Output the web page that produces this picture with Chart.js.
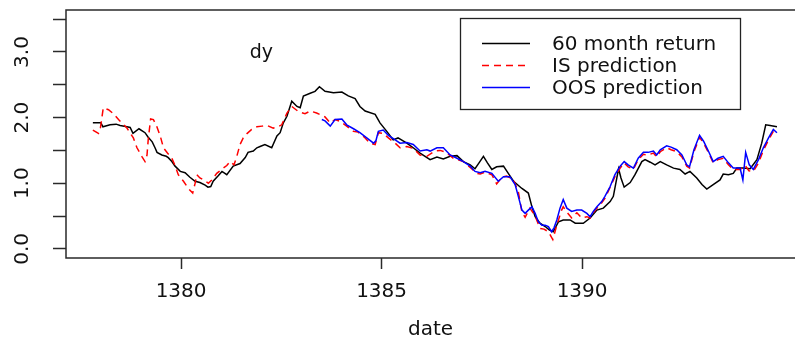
<!DOCTYPE html>
<html><head><meta charset="utf-8">
<script src="https://cdn.jsdelivr.net/npm/chart.js@4.4.1/dist/chart.umd.min.js"></script>
<style>html,body{margin:0;padding:0;background:#fff;}canvas{display:block;}</style>
</head><body>
<canvas id="c" width="795" height="342"></canvas>
<script>
// ---- data ----
const returnDates = [1377.80,1378.00,1378.05,1378.23,1378.38,1378.48,1378.65,1378.73,1378.80,1378.95,
1379.10,1379.18,1379.28,1379.35,1379.40,1379.52,1379.63,1379.68,1379.77,1379.85,
1379.98,1380.10,1380.22,1380.35,1380.47,1380.60,1380.67,1380.74,1380.80,1380.92,
1381.02,1381.14,1381.30,1381.47,1381.60,1381.67,1381.80,1381.89,1381.97,1382.09,
1382.26,1382.39,1382.47,1382.55,1382.64,1382.76,1382.89,1382.97,1383.05,1383.22,
1383.34,1383.45,1383.59,1383.80,1384.01,1384.17,1384.34,1384.46,1384.59,1384.84,
1384.96,1385.13,1385.29,1385.41,1385.63,1385.79,1385.96,1386.21,1386.38,1386.54,
1386.71,1386.88,1387.04,1387.21,1387.33,1387.43,1387.54,1387.64,1387.75,1387.87,
1388.04,1388.16,1388.29,1388.50,1388.66,1388.75,1388.83,1388.95,1389.08,1389.18,
1389.28,1389.35,1389.41,1389.53,1389.70,1389.83,1390.03,1390.20,1390.37,1390.53,
1390.70,1390.78,1390.91,1390.97,1391.05,1391.20,1391.32,1391.49,1391.57,1391.70,
1391.82,1391.95,1392.11,1392.28,1392.44,1392.57,1392.69,1392.86,1392.99,1393.11,
1393.27,1393.44,1393.52,1393.65,1393.77,1393.86,1394.02,1394.19,1394.36,1394.48,
1394.58,1394.69,1394.86];
const returnValues = [1.92,1.92,1.86,1.89,1.90,1.88,1.86,1.85,1.76,1.83,
1.77,1.70,1.63,1.54,1.47,1.43,1.41,1.39,1.33,1.26,
1.18,1.16,1.09,1.03,1.01,0.97,0.94,0.95,1.03,1.11,
1.18,1.13,1.26,1.30,1.39,1.47,1.49,1.54,1.56,1.59,
1.54,1.72,1.77,1.92,2.02,2.25,2.17,2.15,2.33,2.37,
2.40,2.47,2.40,2.38,2.39,2.33,2.29,2.17,2.10,2.05,
1.92,1.79,1.66,1.69,1.61,1.54,1.46,1.36,1.40,1.37,
1.41,1.42,1.33,1.28,1.22,1.31,1.41,1.31,1.21,1.25,
1.26,1.15,1.03,0.92,0.85,0.64,0.49,0.39,0.34,0.29,
0.26,0.34,0.41,0.44,0.44,0.39,0.39,0.47,0.59,0.62,
0.72,0.80,1.22,1.08,0.94,1.01,1.13,1.33,1.36,1.32,
1.28,1.33,1.28,1.23,1.21,1.14,1.18,1.08,0.98,0.91,
0.98,1.05,1.14,1.13,1.15,1.23,1.23,1.22,1.36,1.61,
1.89,1.88,1.86];

const isDates = [1377.80,1377.94,1377.99,1378.06,1378.19,1378.31,1378.44,1378.52,1378.65,1378.81,
1378.90,1379.02,1379.10,1379.15,1379.18,1379.24,1379.31,1379.39,1379.48,1379.56,
1379.66,1379.77,1379.85,1379.93,1380.06,1380.18,1380.29,1380.35,1380.39,1380.47,
1380.56,1380.68,1380.77,1380.89,1381.01,1381.14,1381.22,1381.32,1381.39,1381.47,
1381.55,1381.65,1381.76,1381.89,1382.02,1382.14,1382.30,1382.42,1382.51,1382.64,
1382.76,1382.93,1383.09,1383.22,1383.38,1383.59,1383.72,1383.84,1383.97,1384.13,
1384.30,1384.41,1384.59,1384.71,1384.84,1384.92,1385.04,1385.17,1385.34,1385.46,
1385.63,1385.79,1385.96,1386.13,1386.33,1386.46,1386.61,1386.79,1387.04,1387.21,
1387.37,1387.46,1387.58,1387.75,1387.87,1388.00,1388.12,1388.29,1388.41,1388.50,
1388.58,1388.70,1388.83,1388.95,1389.05,1389.16,1389.27,1389.37,1389.49,1389.53,
1389.62,1389.74,1389.87,1389.99,1390.12,1390.20,1390.28,1390.37,1390.49,1390.57,
1390.70,1390.82,1390.95,1391.05,1391.15,1391.28,1391.40,1391.53,1391.65,1391.78,
1391.86,1391.95,1392.11,1392.22,1392.36,1392.49,1392.61,1392.68,1392.79,1392.93,
1393.03,1393.15,1393.27,1393.39,1393.52,1393.65,1393.77,1393.94,1394.07,1394.16,
1394.27,1394.40,1394.52,1394.65,1394.77,1394.86];
const isValues = [1.81,1.76,1.85,2.15,2.12,2.06,1.97,1.92,1.84,1.69,
1.54,1.41,1.33,1.43,1.66,1.98,1.97,1.87,1.72,1.54,
1.46,1.38,1.27,1.13,1.03,0.92,0.85,1.00,1.13,1.08,
1.05,1.00,1.05,1.15,1.21,1.27,1.33,1.28,1.41,1.59,
1.69,1.76,1.82,1.86,1.87,1.88,1.84,1.86,1.89,2.07,
2.17,2.09,2.06,2.10,2.07,2.01,1.92,1.97,1.94,1.87,
1.79,1.78,1.69,1.61,1.59,1.77,1.76,1.69,1.61,1.54,
1.56,1.53,1.43,1.41,1.49,1.50,1.47,1.38,1.33,1.24,
1.15,1.14,1.17,1.13,0.99,1.09,1.11,1.05,0.87,0.56,
0.48,0.62,0.50,0.31,0.30,0.26,0.14,0.36,0.59,0.64,
0.56,0.47,0.55,0.47,0.49,0.47,0.55,0.62,0.70,0.77,
0.94,1.10,1.23,1.31,1.25,1.21,1.36,1.44,1.43,1.46,
1.40,1.48,1.54,1.51,1.48,1.40,1.26,1.23,1.48,1.70,
1.61,1.47,1.31,1.36,1.38,1.28,1.21,1.21,1.27,1.19,
1.18,1.31,1.50,1.66,1.79,1.76];

const oosDates = [1383.51,1383.59,1383.72,1383.84,1384.01,1384.13,1384.30,1384.46,1384.63,1384.80,
1384.86,1384.92,1385.04,1385.17,1385.34,1385.46,1385.63,1385.79,1385.96,1386.13,
1386.21,1386.38,1386.54,1386.71,1386.88,1387.04,1387.21,1387.33,1387.46,1387.58,
1387.75,1387.91,1388.04,1388.20,1388.33,1388.41,1388.50,1388.58,1388.66,1388.75,
1388.83,1388.91,1389.00,1389.08,1389.16,1389.24,1389.30,1389.37,1389.45,1389.53,
1389.62,1389.74,1389.87,1389.99,1390.12,1390.20,1390.28,1390.37,1390.49,1390.57,
1390.70,1390.82,1390.95,1391.05,1391.15,1391.28,1391.40,1391.53,1391.65,1391.78,
1391.86,1391.95,1392.11,1392.22,1392.36,1392.49,1392.61,1392.68,1392.79,1392.93,
1393.03,1393.15,1393.27,1393.39,1393.52,1393.65,1393.77,1393.94,1394.01,1394.08,
1394.17,1394.27,1394.40,1394.52,1394.65,1394.77,1394.86];
const oosValues = [1.97,1.95,1.87,1.97,1.98,1.89,1.83,1.77,1.69,1.61,
1.65,1.79,1.81,1.73,1.66,1.61,1.62,1.59,1.49,1.51,
1.49,1.54,1.54,1.43,1.38,1.33,1.26,1.18,1.16,1.18,
1.15,1.03,1.10,1.10,0.98,0.80,0.59,0.54,0.59,0.64,
0.54,0.41,0.36,0.36,0.34,0.26,0.32,0.44,0.62,0.75,
0.62,0.57,0.59,0.59,0.54,0.49,0.57,0.64,0.72,0.80,
0.95,1.13,1.26,1.33,1.28,1.23,1.38,1.47,1.47,1.49,
1.43,1.51,1.57,1.55,1.51,1.43,1.28,1.25,1.51,1.73,
1.64,1.49,1.33,1.38,1.41,1.31,1.23,1.23,1.05,1.47,
1.28,1.21,1.36,1.54,1.69,1.82,1.77];

const seriesLabels = ['60 month return', 'IS prediction', 'OOS prediction'];
const xTickValues = [1380, 1385, 1390];
const yTickValues = [0, 0.5, 1, 1.5, 2, 2.5, 3, 3.5];
const yLabelledTicks = [0, 1, 2, 3];
const xRange = [1377.13, 1395.31];
const yRange = [-0.14, 3.64];
const xTitle = 'date';
const panelLabel = 'dy';
const panelLabelAt = {x: 1382, y: 3.0};

// ---- chart ----
const FONT = '"DejaVu Sans", sans-serif';
const INK = '#111';
const AXIS = '#2a2a2a';

function pts(xs, ys) { return xs.map((x, i) => ({x: x, y: ys[i]})); }

const overlay = {
  id: 'overlay',
  afterDraw(chart) {
    const {ctx, chartArea: a, scales} = chart;
    ctx.save();
    // plot frame (right side runs off the picture)
    ctx.strokeStyle = AXIS; ctx.lineWidth = 1.5; ctx.setLineDash([]);
    ctx.beginPath();
    ctx.moveTo(a.right + 5, a.top); ctx.lineTo(a.left, a.top);
    ctx.lineTo(a.left, a.bottom); ctx.lineTo(a.right + 5, a.bottom);
    ctx.stroke();
    // panel label
    ctx.fillStyle = INK; ctx.font = '19px ' + FONT;
    ctx.textAlign = 'center'; ctx.textBaseline = 'middle';
    ctx.fillText(panelLabel, scales.x.getPixelForValue(panelLabelAt.x), scales.y.getPixelForValue(panelLabelAt.y) + 1);
    // legend
    const L = 460, T = 18, R = 740, B = 109;
    ctx.fillStyle = '#fff'; ctx.fillRect(L, T, R - L, B - T);
    ctx.strokeStyle = '#222'; ctx.lineWidth = 1.3;
    ctx.strokeRect(L + 0.5, T + 0.5, R - L, B - T);
    const rows = [43.5, 65.5, 87.5];
    chart.data.datasets.forEach((ds, i) => {
      ctx.strokeStyle = ds.borderColor; ctx.lineWidth = ds.borderWidth;
      ctx.setLineDash(ds.borderDash || []);
      ctx.beginPath(); ctx.moveTo(482, rows[i]); ctx.lineTo(530, rows[i]); ctx.stroke();
      ctx.setLineDash([]);
      ctx.fillStyle = INK; ctx.font = '20px ' + FONT;
      ctx.textAlign = 'left'; ctx.textBaseline = 'middle';
      ctx.fillText(ds.label, 552, rows[i] + 1);
    });
    ctx.restore();
  }
};

new Chart(document.getElementById('c'), {
  type: 'line',
  data: {
    datasets: [
      {label: seriesLabels[0], data: pts(returnDates, returnValues), borderColor: '#000000', borderWidth: 1.5, pointRadius: 0, tension: 0, order: 3},
      {label: seriesLabels[1], data: pts(isDates, isValues), borderColor: '#ff0000', borderWidth: 1.5, borderDash: [7, 5], pointRadius: 0, tension: 0, order: 2},
      {label: seriesLabels[2], data: pts(oosDates, oosValues), borderColor: '#0000ff', borderWidth: 1.5, pointRadius: 0, tension: 0, order: 1}
    ]
  },
  options: {
    responsive: false,
    animation: false,
    devicePixelRatio: 1,
    layout: {padding: {top: 10, left: 0, right: 0, bottom: 0}},
    plugins: {legend: {display: false}, tooltip: {enabled: false}},
    scales: {
      x: {
        type: 'linear', min: xRange[0], max: xRange[1],
        afterBuildTicks: s => { s.ticks = xTickValues.map(v => ({value: v})); },
        afterFit: s => { s.height = 84; s.paddingLeft = 0; s.paddingRight = 0; },
        border: {display: false},
        grid: {display: true, drawOnChartArea: false, drawTicks: true, tickLength: 11, tickColor: AXIS, tickWidth: 1.5},
        ticks: {autoSkip: false, maxRotation: 0, minRotation: 0, padding: 11, color: INK, font: {family: FONT, size: 20},
                callback: v => String(v)},
        title: {display: true, text: xTitle, color: INK, font: {family: FONT, size: 20}, padding: {top: 0, bottom: 0}}
      },
      y: {
        type: 'linear', min: yRange[0], max: yRange[1],
        afterBuildTicks: s => { s.ticks = yTickValues.map(v => ({value: v})); },
        afterFit: s => { s.width = 66; s.paddingTop = 0; s.paddingBottom = 0; },
        border: {display: false},
        grid: {display: true, drawOnChartArea: false, drawTicks: true, tickLength: 13, tickColor: AXIS, tickWidth: 1.5},
        ticks: {autoSkip: false, minRotation: 90, maxRotation: 90, crossAlign: 'center', padding: 14, color: INK,
                font: {family: FONT, size: 20},
                callback: v => (yLabelledTicks.includes(v) ? v.toFixed(1) : '')}
      }
    }
  },
  plugins: [overlay]
});
</script>
</body></html>
